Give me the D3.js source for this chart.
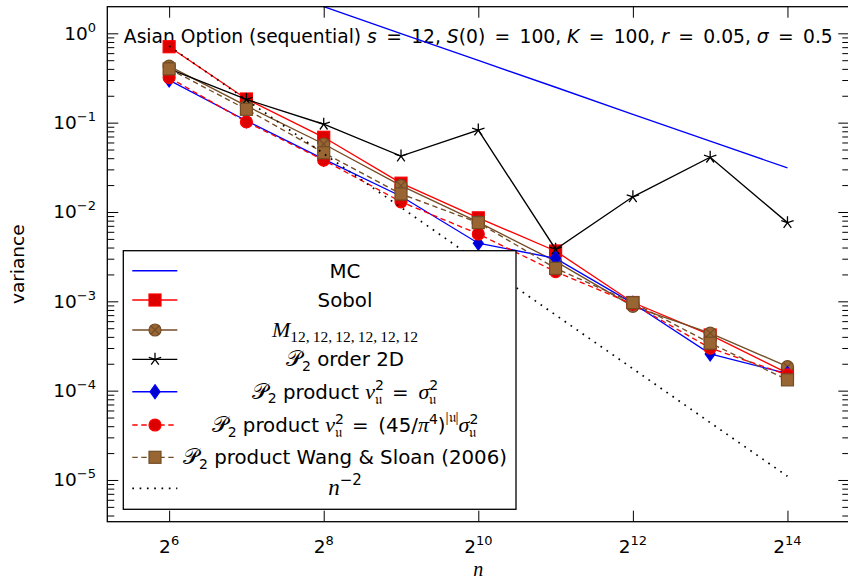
<!DOCTYPE html>
<html><head><meta charset="utf-8">
<script src="https://cdn.jsdelivr.net/npm/d3@7"></script>
<style>body{margin:0;background:#fff}svg{display:block}</style>
</head><body><svg id="c" width="848" height="583"></svg>
<script>
// ---------------- data ----------------
const exponents = [6, 7, 8, 9, 10, 11, 12, 13, 14];           // n = 2^k
const mcVar      = [7.96, 3.98, 1.99, 0.995, 0.497, 0.249, 0.124, 0.0622, 0.0311];
const sobolVar   = [0.708, 0.184, 0.0686, 0.0210, 0.0086, 0.00366, 0.00097, 0.00042, 0.000157];
const mLatVar    = [0.43, 0.154, 0.0577, 0.0197, 0.0077, 0.0028, 0.00088, 0.00044, 0.000186];
const order2DVar = [0.40, 0.182, 0.096, 0.0423, 0.0827, 0.00383, 0.0148, 0.041, 0.0076];
const prodSigVar = [0.30, 0.105, 0.039, 0.0150, 0.00447, 0.00303, 0.00095, 0.000258, 0.000155];
const prod45Var  = [0.32, 0.102, 0.038, 0.0130, 0.00567, 0.00215, 0.00093, 0.00030, 0.000150];
const wangVar    = [0.40, 0.141, 0.046, 0.0159, 0.0076, 0.00234, 0.000966, 0.00034, 0.000132];
const nInv2Var   = [0.72, 0.18, 0.045, 0.01125, 0.00281, 0.000703, 0.000176, 0.0000439, 0.000011];
const xTickExps = [6, 8, 10, 12, 14];
const yTickExps = [0, -1, -2, -3, -4, -5];

// ---------------- setup ----------------
const SANS = "'DejaVu Sans', sans-serif";
const SERIF = "'Liberation Serif', 'DejaVu Serif', serif";
const EQ = '\u2002=\u2002';
const W = 848, H = 583;
const L = 107.3, R = 849.3, T = 6.7, B = 521.7;
const x = d3.scaleLog().base(2).domain([Math.pow(2, 5.2), Math.pow(2, 14.8)]).range([L, R]);
const y = d3.scaleLog().base(10).domain([Math.pow(10, -5.467), Math.pow(10, 0.298)]).range([B, T]);
const nVals = exponents.map(k => Math.pow(2, k));

const svg = d3.select('#c');
svg.append('rect').attr('width', W).attr('height', H).attr('fill', '#fff');
svg.append('clipPath').attr('id', 'clip').append('rect')
  .attr('x', L).attr('y', T).attr('width', R - L).attr('height', B - T);

function rich(parent, segs, o) {
  const t = parent.append('text').attr('x', o.x).attr('y', o.y)
    .attr('text-anchor', o.anchor || 'start').attr('font-family', SANS)
    .attr('font-size', o.size).attr('fill', '#000');
  let cur = 0, prev = null;
  segs.forEach(s => {
    if (typeof s === 'string') s = { t: s };
    const sp = t.append('tspan').text(s.t);
    const off = s.o || 0;
    sp.attr('dy', cur - off); cur = off;
    if (s.fam) sp.attr('font-family', s.fam);
    if (s.it) sp.attr('font-style', 'italic');
    if (s.sz) sp.attr('font-size', s.sz);
    if (s.back && prev) sp.attr('dx', -prev.node().getComputedTextLength());
    prev = sp;
  });
  return t;
}

// ---------------- title (under marks) ----------------
rich(svg, [
  'Asian Option (sequential) ', { t: 's', it: 1 }, EQ + '12, ', { t: 'S', it: 1 }, '(0)' + EQ + '100, ',
  { t: 'K', it: 1 }, EQ + '100, ', { t: 'r', it: 1 }, EQ + '0.05, ', { t: 'σ', it: 1 }, EQ + '0.5'
], { x: (L + R) / 2, y: 42.5, anchor: 'middle', size: 18.7 });

// ---------------- markers ----------------
const BROWN = '#734d26', BROWNF = '#996633';
function drawMarker(g, type, cx, cy) {
  if (type === 'square') {
    g.append('rect').attr('x', cx - 6).attr('y', cy - 6).attr('width', 12).attr('height', 12)
      .attr('fill', '#dd0000').attr('stroke', '#ff0000').attr('stroke-width', 1.2);
  } else if (type === 'bsquare') {
    g.append('rect').attr('x', cx - 6).attr('y', cy - 6).attr('width', 12).attr('height', 12)
      .attr('fill', BROWNF).attr('stroke', BROWN).attr('stroke-width', 1.2);
  } else if (type === 'otimes') {
    g.append('circle').attr('cx', cx).attr('cy', cy).attr('r', 6)
      .attr('fill', BROWNF).attr('stroke', BROWN).attr('stroke-width', 1.2);
    const d = 6 * 0.7071;
    g.append('path').attr('d', `M${cx - d},${cy - d}L${cx + d},${cy + d}M${cx - d},${cy + d}L${cx + d},${cy - d}`)
      .attr('stroke', BROWN).attr('stroke-width', 1.1);
  } else if (type === 'star') {
    let p = '';
    for (let i = 0; i < 5; i++) {
      const a = (-90 + 72 * i) * Math.PI / 180;
      p += `M${cx},${cy}L${cx + 6.5 * Math.cos(a)},${cy + 6.5 * Math.sin(a)}`;
    }
    g.append('path').attr('d', p).attr('stroke', '#000').attr('stroke-width', 1.3).attr('fill', 'none');
  } else if (type === 'diamond') {
    g.append('path').attr('d', `M${cx},${cy - 7}L${cx + 5},${cy}L${cx},${cy + 7}L${cx - 5},${cy}Z`)
      .attr('fill', '#0000cc').attr('stroke', '#0000ff').attr('stroke-width', 1.2);
  } else if (type === 'circle') {
    g.append('circle').attr('cx', cx).attr('cy', cy).attr('r', 6)
      .attr('fill', '#dd0000').attr('stroke', '#ff0000').attr('stroke-width', 1.2);
  }
}

const series = [
  { vals: mcVar, color: '#0000ff', dash: null, mark: null },
  { vals: sobolVar, color: '#ff0000', dash: null, mark: 'square' },
  { vals: mLatVar, color: BROWN, dash: null, mark: 'otimes' },
  { vals: order2DVar, color: '#000', dash: null, mark: 'star' },
  { vals: prodSigVar, color: '#0000ff', dash: null, mark: 'diamond' },
  { vals: prod45Var, color: '#ff0000', dash: '5.4,3.6', mark: 'circle' },
  { vals: wangVar, color: BROWN, dash: '5.4,3.6', mark: 'bsquare' },
  { vals: nInv2Var, color: '#000', dash: '1.7,5.6', mark: null, dotted: true }
];

const plot = svg.append('g').attr('clip-path', 'url(#clip)');
const line = d3.line().x(d => x(d[0])).y(d => y(d[1]));
series.forEach(s => {
  const pts = nVals.map((n, i) => [n, s.vals[i]]);
  const g = plot.append('g');
  g.append('path').attr('d', line(pts)).attr('fill', 'none').attr('stroke', s.color)
    .attr('stroke-width', s.dotted ? 1.7 : 1.35).attr('stroke-dasharray', s.dash);
  if (s.mark) pts.forEach(p => drawMarker(g, s.mark, x(p[0]), y(p[1])));
});

// ---------------- axes ----------------
const minorY = [];
for (let e = -6; e <= 0; e++) for (let m = 2; m <= 9; m++) {
  const v = m * Math.pow(10, e);
  if (v > y.domain()[0] && v < y.domain()[1]) minorY.push(v);
}
const majorY = yTickExps.map(e => Math.pow(10, e));
const majorX = xTickExps.map(e => Math.pow(2, e));
const axStyle = g => { g.select('.domain').remove(); g.selectAll('line').attr('stroke', '#000').attr('stroke-width', 1); };

svg.append('g').attr('transform', `translate(${L},0)`).call(d3.axisLeft(y).tickValues(majorY).tickSize(-11).tickFormat('')).call(axStyle);
svg.append('g').attr('transform', `translate(${L},0)`).call(d3.axisLeft(y).tickValues(minorY).tickSize(-7).tickFormat('')).call(axStyle);
svg.append('g').attr('transform', `translate(${R},0)`).call(d3.axisRight(y).tickValues(majorY).tickSize(-11).tickFormat('')).call(axStyle);
svg.append('g').attr('transform', `translate(${R},0)`).call(d3.axisRight(y).tickValues(minorY).tickSize(-7).tickFormat('')).call(axStyle);
svg.append('g').attr('transform', `translate(0,${B})`).call(d3.axisBottom(x).tickValues(majorX).tickSize(-11).tickFormat('')).call(axStyle);
svg.append('g').attr('transform', `translate(0,${T})`).call(d3.axisTop(x).tickValues(majorX).tickSize(-11).tickFormat('')).call(axStyle);

svg.append('rect').attr('x', L).attr('y', T).attr('width', R - L).attr('height', B - T)
  .attr('fill', 'none').attr('stroke', '#000').attr('stroke-width', 1.3);

yTickExps.forEach(e => {
  rich(svg, ['10', { t: e === 0 ? '0' : '−' + (-e), o: 8, sz: 13 }],
    { x: 96, y: y(Math.pow(10, e)) + 6.5, anchor: 'end', size: 18.5 });
});
xTickExps.forEach(e => {
  rich(svg, ['2', { t: String(e), o: 8, sz: 13 }],
    { x: x(Math.pow(2, e)), y: 553, anchor: 'middle', size: 18.5 });
});
rich(svg, [{ t: 'n', it: 1, fam: SERIF, sz: 20 }], { x: (L + R) / 2, y: 576, anchor: 'middle', size: 18.5 });
svg.append('text').attr('transform', `translate(24,${(T + B) / 2}) rotate(-90)`)
  .attr('text-anchor', 'middle').attr('font-family', SANS).attr('font-size', 18.5).text('variance');

// ---------------- legend ----------------
const lg = svg.append('g');
lg.append('rect').attr('x', 123.3).attr('y', 250.7).attr('width', 392.7).attr('height', 258.6)
  .attr('fill', '#fff').attr('stroke', '#000').attr('stroke-width', 1.3);
const rowY = [270.7, 300, 330, 359.3, 391.7, 425, 457.3, 488.3];
const LS = 19.8;
const P = { t: '𝒫', fam: SERIF, sz: 22 };
const sub2 = { t: '2', o: -4.5, sz: 14 };
const U = '𝔲';
const vSq = [{ t: 'v', fam: SERIF, it: 1, sz: 22, o: 0 }, { t: '2', o: 8.5, sz: 14 }, { t: U, o: -5, sz: 15, fam: SERIF, back: 1 }];
const sSq = [{ t: 'σ', fam: SERIF, it: 1, sz: 22, o: 0 }, { t: '2', o: 8.5, sz: 14 }, { t: U, o: -5, sz: 15, fam: SERIF, back: 1 }];
const labels = [
  ['MC'],
  ['Sobol'],
  [{ t: 'M', fam: SERIF, it: 1, sz: 22 }, { t: '12,\u200912,\u200912,\u200912,\u200912,\u200912', fam: SERIF, sz: 15.5, o: -4.5 }],
  [P, sub2, { t: ' order 2D', o: 0 }],
  [P, sub2, { t: ' product ', o: 0 }, ...vSq, { t: EQ, o: 0 }, ...sSq],
  [P, sub2, { t: ' product ', o: 0 }, ...vSq, { t: EQ + '(45/', o: 0 }, { t: 'π', fam: SERIF, it: 1, sz: 22 }, { t: '4', o: 8.5, sz: 14 },
    { t: ')', o: 0 }, { t: '|' + U + '|', o: 10, sz: 15, fam: SERIF }, ...sSq],
  [P, sub2, { t: ' product Wang & Sloan (2006)', o: 0 }],
  [{ t: 'n', fam: SERIF, it: 1, sz: 23 }, { t: '−2', o: 10, sz: 15 }]
];
series.forEach((s, i) => {
  const yy = rowY[i];
  lg.append('line').attr('x1', 132.3).attr('x2', 177.3).attr('y1', yy).attr('y2', yy)
    .attr('stroke', s.color).attr('stroke-width', s.dotted ? 1.7 : 1.35).attr('stroke-dasharray', s.dash);
  if (s.mark) drawMarker(lg, s.mark, 155, yy);
  rich(lg, labels[i], { x: 345, y: yy + 7, anchor: 'middle', size: LS });
});
</script></body></html>
